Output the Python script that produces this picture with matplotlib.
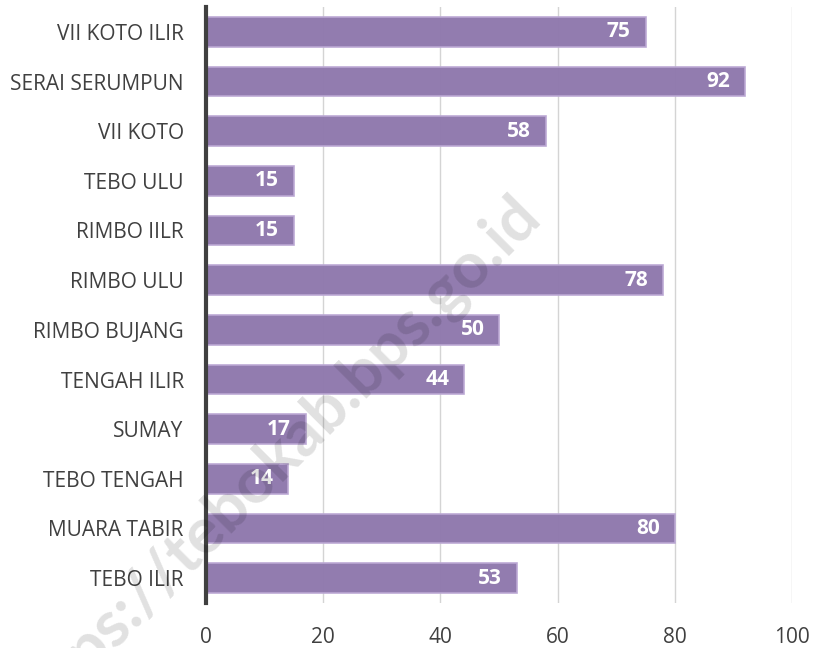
import matplotlib
matplotlib.use("Agg")
import matplotlib.pyplot as plt
import numpy as np

categories = ["VII KOTO ILIR", "SERAI SERUMPUN", "VII KOTO", "TEBO ULU", "RIMBO IILR",
              "RIMBO ULU", "RIMBO BUJANG", "TENGAH ILIR", "SUMAY", "TEBO TENGAH",
              "MUARA TABIR", "TEBO ILIR"]
values = [75, 92, 58, 15, 15, 78, 50, 44, 17, 14, 80, 53]
xticks = [0, 20, 40, 60, 80, 100]
watermark = "https://tebokab.bps.go.id"

plt.rcParams['font.family'] = ['Open Sans', 'DejaVu Sans']

fig = plt.figure(figsize=(8.21, 6.48), dpi=100)
ax = fig.add_axes([206/821, 1 - 603/648, (792 - 206)/821, (603 - 7)/648])

y = np.arange(len(categories))
ax.barh(y, values, height=0.6, color="#8f78ad", edgecolor="#bba8d4",
        linewidth=1.2, alpha=0.97, zorder=2)

for yi, v in zip(y, values):
    ax.text(v - 2.5, yi, str(v), ha="right", va="center", color="white",
            fontsize=15, fontweight="bold", zorder=4)

ax.set_xlim(0, 100)
ax.set_ylim(len(categories) - 0.5, -0.5)
ax.set_yticks(y)
ax.set_yticklabels(categories, fontsize=15, color="#404040")
ax.set_xticks(xticks)
ax.set_xticklabels([str(t) for t in xticks], fontsize=15, color="#404040")
ax.tick_params(axis="both", length=0)
ax.tick_params(axis="y", pad=16)
ax.tick_params(axis="x", pad=17)
ax.grid(axis="x", color="#d4d4d4", linewidth=1.0, zorder=1)
ax.set_axisbelow(True)
for s in ["top", "right", "bottom"]:
    ax.spines[s].set_visible(False)
ax.spines["left"].set_color("#404040")
ax.spines["left"].set_linewidth(3)
ax.spines["left"].set_zorder(5)

fig.text(530/821, 1 - 206/648, watermark, rotation=45, rotation_mode="anchor",
         ha="right", va="center", fontsize=46, fontweight="bold",
         family=["Lato", "DejaVu Sans"],
         color="black", alpha=0.12, zorder=10)

fig.savefig("out.png", dpi=100)
